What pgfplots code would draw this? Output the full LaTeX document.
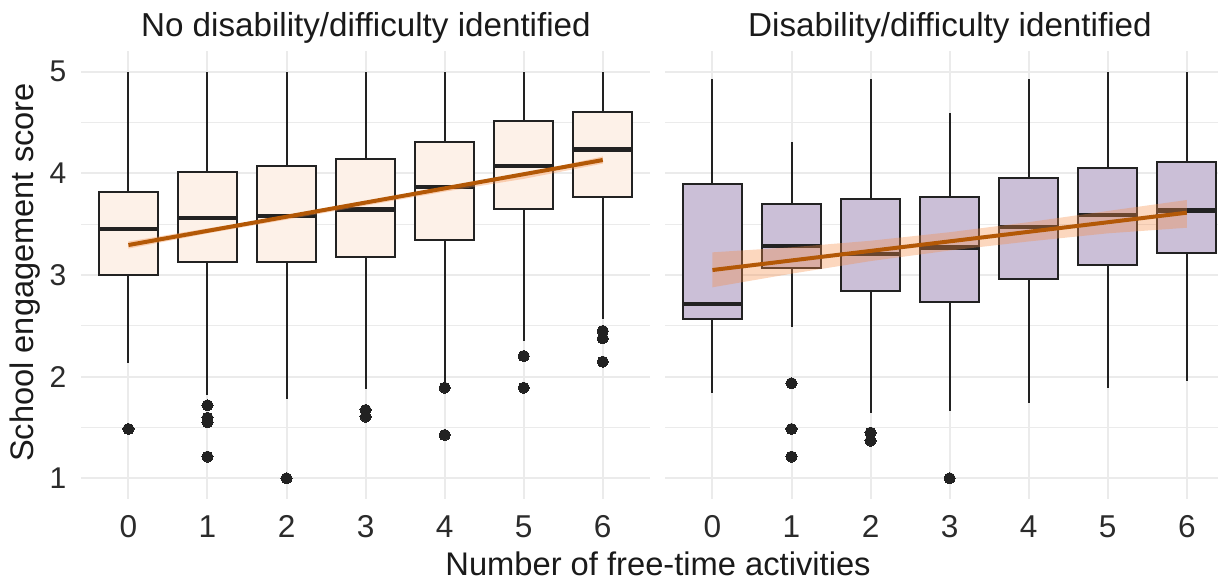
\documentclass[border=0pt]{standalone}
\usepackage{pgfplots}
\pgfplotsset{compat=1.18}
\usepgfplotslibrary{statistics}
\usepackage{fontspec}
\setmainfont{Liberation Sans}
\definecolor{gridc}{HTML}{EBEBEB}
\definecolor{boxline}{HTML}{222222}
\definecolor{fillA}{HTML}{FDF1E8}
\definecolor{fillB}{HTML}{CBBFD7}
\definecolor{trend}{HTML}{B35806}
\definecolor{ribbon}{HTML}{F58C46}
\definecolor{ticktext}{HTML}{2B2B2B}
\definecolor{titletext}{HTML}{1A1A1A}

\pgfplotsset{
  panel/.style={
    scale only axis, anchor=south west,
    height=223.6pt,
    ymin=0.8, ymax=5.2,
    ytick={1,2,3,4,5}, minor ytick={1.5,2.5,3.5,4.5},
    xtick={0,...,6},
    grid=both,
    major grid style={gridc, line width=1pt},
    minor grid style={gridc, line width=0.5pt},
    axis line style={draw=none},
    tick style={draw=none},
    major tick length=0pt, minor tick length=0pt,
    xticklabel style={font=\fontsize{15.8}{18}\selectfont, text=ticktext, anchor=base, inner sep=0pt, yshift=-19.5pt},
    yticklabel style={font=\fontsize{15}{17}\selectfont, text=ticktext, anchor=east, inner sep=0pt, xshift=-7.2pt},
    /pgf/number format/assume math mode=true,
    boxplot/draw direction=y,
    boxplot/box extend=0.75,
    boxplot/whisker extend=0,
    boxplot/every median/.style={line width=2.2pt},
    boxplot/every whisker/.style={line width=1pt},
  },
  bx/.style={boxline, line width=1pt, mark=*, mark size=2.8pt, mark options={fill=boxline, draw=boxline, line width=0pt}},
}

\begin{document}
\begin{tikzpicture}
\useasboundingbox (0,0) rectangle (609.5pt,290pt);

% ---------- Left panel ----------
\begin{axis}[panel, at={(40.5pt,40.7pt)}, width=284.6pt,
  xmin=-0.6, xmax=6.6,
  boxplot/every box/.style={fill=fillA, draw=boxline, line width=1pt}]
\addplot[bx, boxplot prepared={draw position=0, lower whisker=2.13, lower quartile=3.00, median=3.45, upper quartile=3.814, upper whisker=5.0}]
  table[row sep=\\, y index=0] {d\\ 1.485\\};
\addplot[bx, boxplot prepared={draw position=1, lower whisker=1.82, lower quartile=3.131, median=3.558, upper quartile=4.016, upper whisker=5.0}]
  table[row sep=\\, y index=0] {d\\ 1.718\\ 1.596\\ 1.551\\ 1.213\\};
\addplot[bx, boxplot prepared={draw position=2, lower whisker=1.78, lower quartile=3.131, median=3.58, upper quartile=4.075, upper whisker=5.0}]
  table[row sep=\\, y index=0] {d\\ 1.0\\};
\addplot[bx, boxplot prepared={draw position=3, lower whisker=1.876, lower quartile=3.18, median=3.643, upper quartile=4.141, upper whisker=5.0}]
  table[row sep=\\, y index=0] {d\\ 1.672\\ 1.606\\};
\addplot[bx, boxplot prepared={draw position=4, lower whisker=1.93, lower quartile=3.344, median=3.863, upper quartile=4.306, upper whisker=5.0}]
  table[row sep=\\, y index=0] {d\\ 1.891\\ 1.426\\};
\addplot[bx, boxplot prepared={draw position=5, lower whisker=2.35, lower quartile=3.646, median=4.072, upper quartile=4.518, upper whisker=5.0}]
  table[row sep=\\, y index=0] {d\\ 2.203\\ 1.891\\};
\addplot[bx, boxplot prepared={draw position=6, lower whisker=2.564, lower quartile=3.764, median=4.236, upper quartile=4.6, upper whisker=5.0}]
  table[row sep=\\, y index=0] {d\\ 2.449\\ 2.377\\ 2.147\\};
% ribbon
\addplot[draw=none, fill=ribbon, fill opacity=0.35] coordinates {
  (0,3.330) (1,3.459) (2,3.581) (3,3.713) (4,3.856) (5,3.996) (6,4.166)
  (6,4.096) (5,3.946) (4,3.820) (3,3.683) (2,3.545) (1,3.409) (0,3.260)} -- cycle;
\addplot[trend, line width=2pt] coordinates {(0,3.295) (6,4.131)};
\end{axis}

% ---------- Right panel ----------
\begin{axis}[panel, at={(332.5pt,40.7pt)}, width=276.7pt,
  xmin=-0.6, xmax=6.4, yticklabels={},
  boxplot/every box/.style={fill=fillB, draw=boxline, line width=1pt}]
\addplot[bx, boxplot prepared={draw position=0, lower whisker=1.842, lower quartile=2.564, median=2.715, upper quartile=3.892, upper whisker=4.925}]
  coordinates {};
\addplot[bx, boxplot prepared={draw position=1, lower whisker=2.49, lower quartile=3.066, median=3.285, upper quartile=3.698, upper whisker=4.306}]
  table[row sep=\\, y index=0] {d\\ 1.935\\ 1.485\\ 1.213\\};
\addplot[bx, boxplot prepared={draw position=2, lower whisker=1.639, lower quartile=2.842, median=3.207, upper quartile=3.751, upper whisker=4.925}]
  table[row sep=\\, y index=0] {d\\ 1.449\\ 1.37\\};
\addplot[bx, boxplot prepared={draw position=3, lower whisker=1.665, lower quartile=2.737, median=3.269, upper quartile=3.767, upper whisker=4.59}]
  table[row sep=\\, y index=0] {d\\ 1.0\\};
\addplot[bx, boxplot prepared={draw position=4, lower whisker=1.738, lower quartile=2.961, median=3.475, upper quartile=3.951, upper whisker=4.925}]
  coordinates {};
\addplot[bx, boxplot prepared={draw position=5, lower whisker=1.891, lower quartile=3.095, median=3.593, upper quartile=4.05, upper whisker=5.0}]
  coordinates {};
\addplot[bx, boxplot prepared={draw position=6, lower whisker=1.96, lower quartile=3.213, median=3.633, upper quartile=4.109, upper whisker=5.0}]
  coordinates {};
% ribbon
\addplot[draw=none, fill=ribbon, fill opacity=0.35] coordinates {
  (0,3.223) (1,3.273) (2,3.337) (3,3.421) (4,3.520) (5,3.630) (6,3.738)
  (6,3.465) (5,3.410) (4,3.330) (3,3.241) (2,3.137) (1,3.013) (0,2.879)} -- cycle;
\addplot[trend, line width=2pt] coordinates {(0,3.049) (6,3.613)};
\end{axis}

% ---------- Texts ----------
\node[anchor=base, inner sep=0pt, text=titletext, font=\fontsize{16.6}{19}\selectfont] at (182.95pt,271.65pt) {No disability/difficulty identified};
\node[anchor=base, inner sep=0pt, text=titletext, font=\fontsize{16.6}{19}\selectfont] at (474.95pt,271.65pt) {Disability/difficulty identified};
\node[anchor=base, inner sep=0pt, text=titletext, font=\fontsize{16.35}{19}\selectfont] at (329pt,2.5pt) {Number of free-time activities};
\node[anchor=base, inner sep=0pt, rotate=90, text=titletext, font=\fontsize{16.3}{19}\selectfont] at (16.65pt,153.75pt) {School engagement score};
\end{tikzpicture}
\end{document}
